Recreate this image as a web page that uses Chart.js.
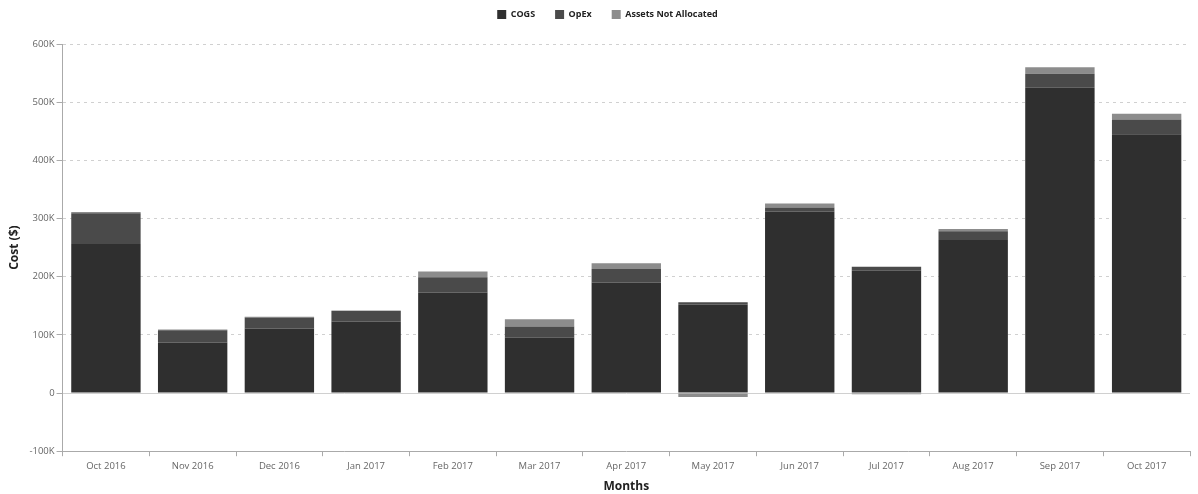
<!DOCTYPE html>
<html>
<head>
<meta charset="utf-8">
<script src="https://cdn.jsdelivr.net/npm/chart.js@4/dist/chart.umd.min.js"></script>
<style>
  html, body { margin: 0; padding: 0; background: #fff; }
  #wrap { width: 1198px; height: 494px; }
</style>
</head>
<body>
<div id="wrap"><canvas id="c" width="1198" height="494"></canvas></div>
<script>
// Monthly cost breakdown (USD)
const months = ['Oct 2016', 'Nov 2016', 'Dec 2016', 'Jan 2017', 'Feb 2017', 'Mar 2017', 'Apr 2017',
                'May 2017', 'Jun 2017', 'Jul 2017', 'Aug 2017', 'Sep 2017', 'Oct 2017'];
const cogs   = [256000, 87000, 111000, 123000, 173000, 95000, 190000, 152000, 312000, 210000, 263000, 525000, 445000];
const opex   = [ 53000, 21000,  19000,  18000,  26000, 19500,  23000,   4000,   7000,   7000,  15000,  24000,  25000];
const assets = [  2000,  1000,   1000,   1000,  10000, 12500,  10000,  -7000,   7000,  -2000,   4000,  11000,  10000];
const yTicks = [-100000, 0, 100000, 200000, 300000, 400000, 500000, 600000];

const FONT = "'Open Sans', 'Liberation Sans', sans-serif";

// Fixed legend band height, with the legend row nudged up and slightly right
const legendBand = {
  id: 'legendBand',
  beforeInit(chart) {
    const origFit = chart.legend.fit;
    chart.legend.fit = function () {
      origFit.call(this);
      this.height = 44;
    };
  },
  afterLayout(chart) {
    const lg = chart.legend;
    lg.top -= 10; lg.bottom -= 10;
    lg.left += 9; lg.right += 9;
  }
};

new Chart(document.getElementById('c'), {
  type: 'bar',
  data: {
    labels: months,
    datasets: [
      { label: 'COGS', data: cogs, backgroundColor: '#2f2f2f' },
      { label: 'OpEx', data: opex, backgroundColor: '#4a4a4a' },
      { label: 'Assets Not Allocated', data: assets, backgroundColor: '#8c8c8c' }
    ]
  },
  plugins: [legendBand],
  options: {
    responsive: false,
    animation: false,
    layout: { padding: { left: 7, right: 8, top: 0, bottom: 0 } },
    datasets: { bar: { categoryPercentage: 0.8, barPercentage: 1.0, borderWidth: 0 } },
    plugins: {
      tooltip: { enabled: false },
      legend: {
        position: 'top',
        labels: {
          boxWidth: 9, boxHeight: 9, padding: 20,
          color: '#222',
          font: { family: FONT, size: 9, weight: 'bold' }
        }
      }
    },
    scales: {
      x: {
        stacked: true,
        title: { display: true, text: 'Months', color: '#222', padding: { top: 4, bottom: 0 },
                 font: { family: FONT, size: 12, weight: 'bold' } },
        ticks: { color: '#666', font: { family: FONT, size: 9.5 }, padding: 4, maxRotation: 0 },
        grid: { display: true, drawOnChartArea: false, drawTicks: true, tickLength: 5, color: '#aaa', offset: true },
        border: { display: true, color: '#aaa', width: 1 }
      },
      y: {
        stacked: true,
        min: -100000, max: 600000,
        afterBuildTicks: (axis) => { axis.ticks = yTicks.map(v => ({ value: v })); },
        title: { display: true, text: 'Cost ($)', color: '#222', padding: { top: 0, bottom: 6 },
                 font: { family: FONT, size: 12, weight: 'bold' } },
        ticks: {
          color: '#666', font: { family: FONT, size: 9.5 }, padding: 2,
          callback: (v) => v === 0 ? '0' : (v / 1000) + 'K'
        },
        grid: {
          drawTicks: true, tickLength: 6,
          color: (ctx) => (ctx.tick && ctx.tick.value === -100000) ? 'rgba(0,0,0,0)' : '#d0d0d0',
          tickColor: '#aaa'
        },
        border: {
          display: true, color: '#aaa', width: 1,
          dash: (ctx) => (ctx.tick && ctx.tick.value === 0) ? [] : [3, 4]
        }
      }
    }
  }
});
</script>
</body>
</html>
